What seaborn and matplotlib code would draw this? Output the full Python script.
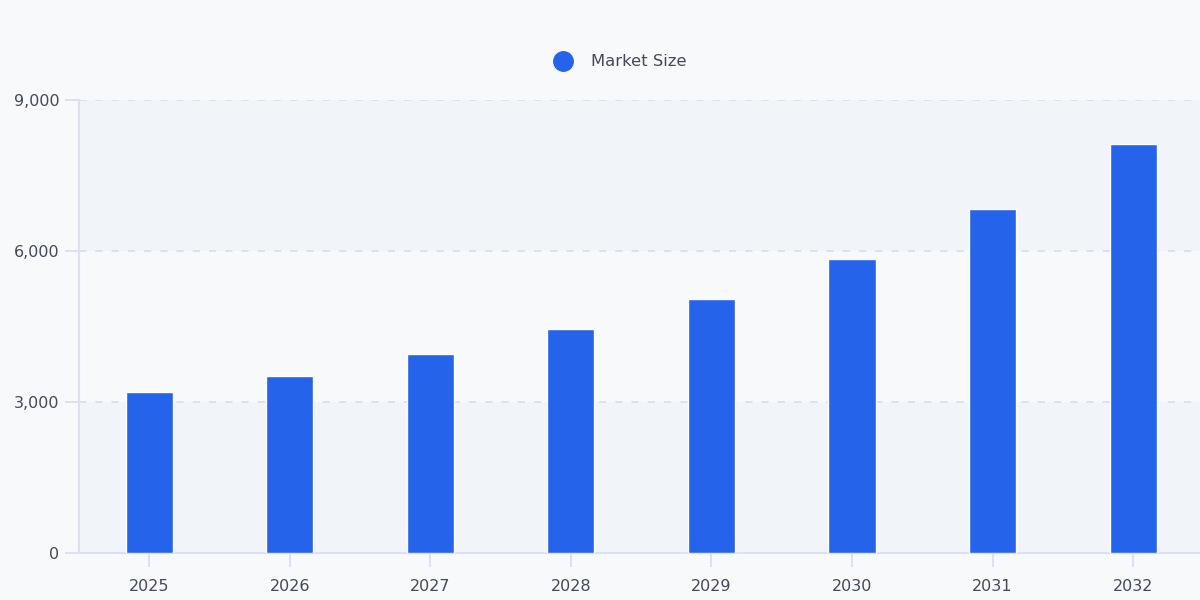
import pandas as pd
import matplotlib.pyplot as plt
import seaborn as sns
from matplotlib.lines import Line2D

# data
years = ["2025", "2026", "2027", "2028", "2029", "2030", "2031", "2032"]
market_size = [3200, 3525, 3945, 4445, 5050, 5835, 6840, 8130]
y_ticks = [0, 3000, 6000, 9000]
series_name = "Market Size"

BAR_BLUE = "#2563eb"
FIG_BG = "#f8f9fb"
BAND_BG = "#f1f4f8"
AXIS_LINE = "#dbe0f6"
GRID_LINE = "#dadfec"
TEXT = "#434958"

df = pd.DataFrame({"year": years, "value": market_size})

sns.set_theme(style="white")
plt.rcParams["font.family"] = ["DejaVu Sans"]

fig = plt.figure(figsize=(12, 6), dpi=100, facecolor=FIG_BG)
ax = fig.add_axes([0.0658, 0.0783, 0.937, 0.755])
ax.set_facecolor(FIG_BG)

# alternating horizontal bands
for i in range(0, len(y_ticks) - 1, 2):
    ax.axhspan(y_ticks[i], y_ticks[i + 1], color=BAND_BG, zorder=0, lw=0)

sns.barplot(data=df, x="year", y="value", color=BAR_BLUE, width=0.335,
            saturation=1, ax=ax, zorder=3)

ax.set_xlim(-0.5, len(years) - 0.5)
ax.set_ylim(0, 9000)
ax.set_yticks(y_ticks)
ax.set_yticklabels([f"{v:,}" for v in y_ticks])
ax.set_xlabel("")
ax.set_ylabel("")

for v in y_ticks[1:]:
    ax.axhline(v, color=GRID_LINE, lw=1.3, ls=(0, (4, 5)), zorder=1)

for side in ["top", "right"]:
    ax.spines[side].set_visible(False)
for side in ["left", "bottom"]:
    ax.spines[side].set_color(AXIS_LINE)
    ax.spines[side].set_linewidth(1.5)

ax.tick_params(axis="both", bottom=True, left=True, colors=AXIS_LINE,
               labelcolor=TEXT, labelsize=11.5, length=10, width=1.4,
               direction="out")
ax.tick_params(axis="x", pad=9)
ax.tick_params(axis="y", pad=4)

handle = Line2D([], [], marker="o", ls="", markersize=14, color=BAR_BLUE)
fig.legend([handle], [series_name], loc="center", bbox_to_anchor=(0.514, 0.897),
           frameon=False, fontsize=11.8, labelcolor=TEXT, handletextpad=0.7)

fig.savefig("out.png", dpi=100, facecolor=FIG_BG)
